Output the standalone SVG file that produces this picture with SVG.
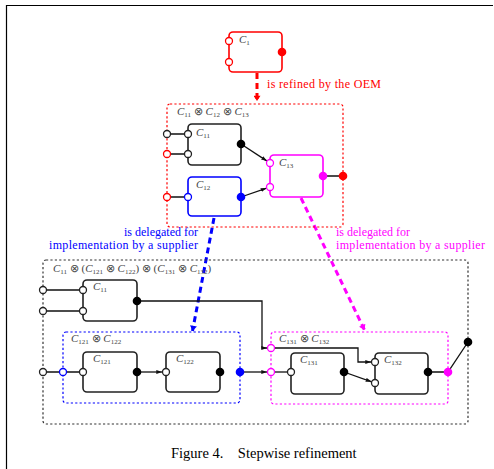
<svg xmlns="http://www.w3.org/2000/svg" width="494" height="469" viewBox="0 0 494 469">
<style>
.frame{fill:none;stroke:#000;stroke-width:1.2}
.box{fill:none;stroke-width:1.6}
.k{stroke:#222}.r{stroke:#f00}.b{stroke:#00f}.m{stroke:#f0f}
.open{fill:#fff;stroke-width:1.3}
.dot{fill:none;stroke-width:1.2;stroke-dasharray:2.2 2.2}
.w{fill:none;stroke:#111;stroke-width:1.3}
.lbl{font-family:"Liberation Serif",serif;font-size:11px;font-style:italic;fill:#444}
.sub{font-size:7px;font-style:normal}
.op{font-style:normal}
.txt{font-family:"Liberation Serif",serif;font-size:12px}
.big{fill:none;stroke-width:3;stroke-dasharray:6 4}
</style>
<defs>
<marker id="ah" viewBox="0 0 6 4" refX="6" refY="2" markerWidth="6" markerHeight="4" markerUnits="userSpaceOnUse" orient="auto"><path d="M0,0L6,2L0,4z" fill="#111"/></marker>
<marker id="ahr" viewBox="0 0 6 8" refX="6" refY="4" markerWidth="8" markerHeight="7" markerUnits="userSpaceOnUse" orient="auto"><path d="M0,0L6,4L0,8z" fill="#f00"/></marker>
<marker id="ahb" viewBox="0 0 6 8" refX="6" refY="4" markerWidth="8" markerHeight="7" markerUnits="userSpaceOnUse" orient="auto"><path d="M0,0L6,4L0,8z" fill="#00f"/></marker>
<marker id="ahm" viewBox="0 0 6 8" refX="6" refY="4" markerWidth="8" markerHeight="7" markerUnits="userSpaceOnUse" orient="auto"><path d="M0,0L6,4L0,8z" fill="#f0f"/></marker>
</defs>
<path class="frame" d="M6.5,469V5.5H493"/>

<g id="connectors">
<line class="big r" x1="257" y1="73" x2="257" y2="101" marker-end="url(#ahr)"/>
<line class="big b" x1="214" y1="218" x2="192.5" y2="331" marker-end="url(#ahb)"/>
<line class="big m" x1="301" y1="198" x2="364.5" y2="330" marker-end="url(#ahm)"/>
<path class="w" d="M167,134H188M167,154H188M167,197H188M323,176H343"/>
<line class="w" x1="241" y1="144" x2="267.1" y2="161.1" marker-end="url(#ah)"/>
<line class="w" x1="241" y1="197" x2="266.7" y2="188.1" marker-end="url(#ah)"/>
<path class="w" d="M43,290H83M43,311H83M43,372H83"/>
<path class="w" d="M137,301H262V348H267.3" marker-end="url(#ah)"/>
<line class="w" x1="141" y1="372" x2="162.3" y2="372" marker-end="url(#ah)"/>
<line class="w" x1="240" y1="372" x2="267.3" y2="372" marker-end="url(#ah)"/>
<path class="w" d="M274.5,348H358V362H371.3" marker-end="url(#ah)"/>
<path class="w" d="M271,372H291"/>
<line class="w" x1="344" y1="372" x2="371.7" y2="381.8" marker-end="url(#ah)"/>
<path class="w" d="M428,372H448L468,342"/>
</g>

<g id="label-refined"><text class="txt" x="267" y="88" fill="#f00" textLength="114">is refined by the OEM</text></g>
<g id="label-deleg-blue">
<text class="txt" x="198" y="236" fill="#00f" text-anchor="end">is delegated for</text>
<text class="txt" x="198" y="249" fill="#00f" text-anchor="end" textLength="149">implementation by a supplier</text>
</g>
<g id="label-deleg-magenta">
<text class="txt" x="336" y="236" fill="#f0f">is delegated for</text>
<text class="txt" x="336" y="249" fill="#f0f" textLength="149">implementation by a supplier</text>
</g>

<g id="C1">
<rect class="box r" x="229" y="32" width="53" height="40" rx="4"/>
<text class="lbl" x="239" y="43">C<tspan class="sub" dy="2">1</tspan></text>
<circle class="open r" cx="229" cy="41" r="3.5"/>
<circle class="open r" cx="229" cy="62" r="3.5"/>
<circle cx="282" cy="52" r="4.3" fill="#f00"/>
</g>

<g id="C11_C12_C13">
<rect class="dot r" x="167" y="104" width="176" height="123" rx="3"/>
<text class="lbl" x="177" y="115">C<tspan class="sub" dy="2">11</tspan><tspan class="op" dy="-2"> ⊗ </tspan>C<tspan class="sub" dy="2">12</tspan><tspan class="op" dy="-2"> ⊗ </tspan>C<tspan class="sub" dy="2">13</tspan></text>
<circle class="open k" cx="167" cy="134" r="3.5"/>
<circle class="open r" cx="167" cy="154" r="3.5"/>
<circle class="open r" cx="167" cy="197" r="3.5"/>
<circle cx="343" cy="176" r="4.3" fill="#f00"/>
</g>
<g id="C11">
<rect class="box k" x="188" y="124" width="53" height="41" rx="4"/>
<text class="lbl" x="196" y="136">C<tspan class="sub" dy="2">11</tspan></text>
<circle class="open k" cx="188" cy="134" r="3.5"/>
<circle class="open k" cx="188" cy="154" r="3.5"/>
<circle cx="241" cy="144" r="4.3" fill="#000"/>
</g>
<g id="C12">
<rect class="box b" x="188" y="177" width="53" height="39" rx="4"/>
<text class="lbl" x="196" y="188">C<tspan class="sub" dy="2">12</tspan></text>
<circle class="open b" cx="188" cy="197" r="3.5"/>
<circle cx="241" cy="197" r="4.3" fill="#00f"/>
</g>
<g id="C13">
<rect class="box m" x="270" y="155" width="53" height="42" rx="4"/>
<text class="lbl" x="279" y="166">C<tspan class="sub" dy="2">13</tspan></text>
<circle class="open m" cx="270" cy="163" r="3.5"/>
<circle class="open m" cx="270" cy="187" r="3.5"/>
<circle cx="323" cy="176" r="4.3" fill="#f0f"/>
</g>

<g id="bottom">
<rect class="dot" stroke="#333" x="43" y="260" width="425" height="164" rx="3"/>
<text class="lbl" x="53" y="272">C<tspan class="sub" dy="2">11</tspan><tspan class="op" dy="-2"> ⊗ (</tspan>C<tspan class="sub" dy="2">121</tspan><tspan class="op" dy="-2"> ⊗ </tspan>C<tspan class="sub" dy="2">122</tspan><tspan class="op" dy="-2">) ⊗ (</tspan>C<tspan class="sub" dy="2">131</tspan><tspan class="op" dy="-2"> ⊗ </tspan>C<tspan class="sub" dy="2">132</tspan><tspan class="op" dy="-2">)</tspan></text>
<circle class="open k" cx="43" cy="290" r="3.5"/>
<circle class="open k" cx="43" cy="311" r="3.5"/>
<circle class="open k" cx="43" cy="372" r="3.5"/>
<circle cx="468" cy="342" r="4.3" fill="#000"/>
</g>
<g id="C11b">
<rect class="box k" x="83" y="280" width="54" height="41" rx="4"/>
<text class="lbl" x="93" y="290">C<tspan class="sub" dy="2">11</tspan></text>
<circle class="open k" cx="83" cy="290" r="3.5"/>
<circle class="open k" cx="83" cy="311" r="3.5"/>
<circle cx="137" cy="301" r="4.3" fill="#000"/>
</g>
<g id="C121_C122">
<rect class="dot b" x="63" y="332" width="177" height="71" rx="3"/>
<text class="lbl" x="71" y="342">C<tspan class="sub" dy="2">121</tspan><tspan class="op" dy="-2"> ⊗ </tspan>C<tspan class="sub" dy="2">122</tspan></text>
<circle class="open b" cx="63" cy="372" r="3.5"/>
<circle cx="240" cy="372" r="4.3" fill="#00f"/>
</g>
<g id="C121">
<rect class="box k" x="83" y="352" width="54" height="40" rx="4"/>
<text class="lbl" x="93" y="362">C<tspan class="sub" dy="2">121</tspan></text>
<circle class="open k" cx="83" cy="372" r="3.5"/>
<circle cx="137" cy="372" r="4.3" fill="#000"/>
</g>
<g id="C122">
<rect class="box k" x="166" y="352" width="54" height="40" rx="4"/>
<text class="lbl" x="176" y="362">C<tspan class="sub" dy="2">122</tspan></text>
<circle class="open k" cx="166" cy="372" r="3.5"/>
<circle cx="220" cy="372" r="4.3" fill="#000"/>
</g>
<g id="C131_C132">
<rect class="dot m" x="271" y="332" width="177" height="72" rx="3"/>
<text class="lbl" x="279" y="342">C<tspan class="sub" dy="2">131</tspan><tspan class="op" dy="-2"> ⊗ </tspan>C<tspan class="sub" dy="2">132</tspan></text>
<circle class="open m" cx="271" cy="348" r="3.5"/>
<circle class="open m" cx="271" cy="372" r="3.5"/>
<circle cx="448" cy="372" r="4.3" fill="#f0f"/>
</g>
<g id="C131">
<rect class="box k" x="291" y="353" width="53" height="41" rx="4"/>
<text class="lbl" x="300" y="363">C<tspan class="sub" dy="2">131</tspan></text>
<circle class="open k" cx="291" cy="372" r="3.5"/>
<circle cx="344" cy="372" r="4.3" fill="#000"/>
</g>
<g id="C132">
<rect class="box k" x="375" y="353" width="53" height="41" rx="4"/>
<text class="lbl" x="384" y="363">C<tspan class="sub" dy="2">132</tspan></text>
<circle class="open k" cx="375" cy="362" r="3.5"/>
<circle class="open k" cx="375" cy="383" r="3.5"/>
<circle cx="428" cy="372" r="4.3" fill="#000"/>
</g>

<g id="caption"><text x="171" y="458" font-family="Liberation Serif,serif" font-size="14.5" fill="#000" xml:space="preserve">Figure 4.    Stepwise refinement</text></g>
</svg>
